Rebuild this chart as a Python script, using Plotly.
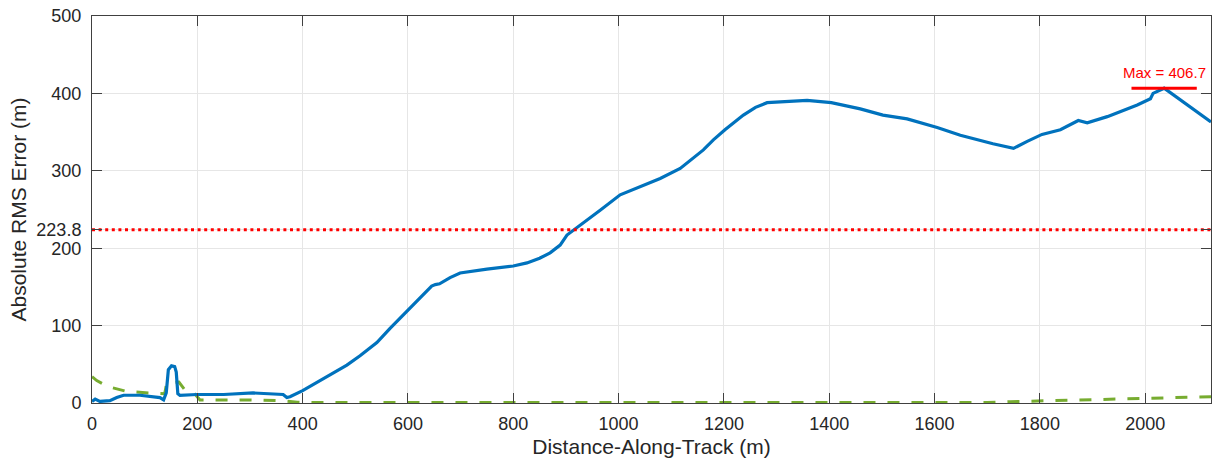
import plotly.graph_objects as go

# Distance along track (m) and absolute RMS error (m) of the estimate
dist_est = [0, 6, 15, 34, 47, 60, 91, 129, 136, 141, 145, 151, 157, 160, 163, 167, 199, 250,
            306, 340, 363, 370, 376, 400, 439, 484, 509, 541, 566, 601, 620, 645, 652, 660,
            680, 699, 750, 800, 826, 850, 870, 889, 902, 920, 965, 1003, 1041, 1079, 1117,
            1142, 1161, 1180, 1202, 1237, 1260, 1282, 1320, 1358, 1404, 1459, 1502, 1548,
            1605, 1649, 1711, 1750, 1776, 1804, 1839, 1873, 1890, 1928, 1985, 2010, 2015,
            2036, 2125]
rmse_est = [2, 5, 2, 3, 7, 10, 10, 7, 4, 13, 43, 48, 47, 40, 12, 10, 11, 11,
            13, 12, 11, 7, 8, 16, 31, 49, 61, 78, 96.5, 120, 133, 151, 153, 154,
            162, 168, 173, 177, 181, 187, 194, 204, 217, 226, 249, 269, 279, 290, 303,
            316, 327, 340, 353, 372, 382, 388, 390, 391, 388, 380, 372, 367,
            356, 346, 335, 329, 338, 347, 353, 365, 362, 370, 385, 393, 400,
            406.7, 363]

# Reference solution error (m)
dist_ref = [0, 9, 31, 66, 107, 138, 142, 165, 175, 190, 205, 300, 360, 390, 420, 1700,
            1744, 1794, 1839, 1886, 1933, 1981, 2029, 2072, 2125]
rmse_ref = [34, 29, 21, 15, 13, 12, 26, 27, 18, 16, 4, 4, 3, 1, 0.6, 0.6,
            1.7, 2.6, 3.4, 3.9, 4.7, 5.6, 6.9, 7.3, 8.1]

MEAN_RMSE = 223.8
X_MAX = 2125
Y_TICKS = [0, 100, MEAN_RMSE, 200, 300, 400, 500]
Y_TICK_TEXT = ["0", "100", "223.8", "200", "300", "400", "500"]
X_TICKS = list(range(0, 2001, 200))

peak_val = max(rmse_est)
peak_x = dist_est[rmse_est.index(peak_val)]
MAX_HALF_WIDTH = 62

FONT = "Liberation Sans, Arial, Helvetica, sans-serif"
INK = "#262626"

fig = go.Figure()

fig.add_trace(go.Scatter(
    x=dist_ref, y=rmse_ref, mode="lines",
    line=dict(color="#77AC30", width=3, dash="12px,12px"),
    showlegend=False, hoverinfo="skip"))

fig.add_trace(go.Scatter(
    x=dist_est, y=rmse_est, mode="lines",
    line=dict(color="#0072BD", width=3.2),
    showlegend=False))

# Mean error line
fig.add_trace(go.Scatter(
    x=[0, X_MAX], y=[MEAN_RMSE, MEAN_RMSE], mode="lines",
    line=dict(color="#FF0000", width=3, dash="3px,3.6px"),
    showlegend=False, hoverinfo="skip"))

# Peak marker
fig.add_trace(go.Scatter(
    x=[peak_x - MAX_HALF_WIDTH, peak_x + MAX_HALF_WIDTH], y=[peak_val, peak_val],
    mode="lines", line=dict(color="#FF0000", width=3),
    showlegend=False, hoverinfo="skip"))

fig.add_annotation(
    x=peak_x, y=peak_val, yshift=16, text=f"Max = {peak_val:.1f}",
    showarrow=False, xanchor="center", yanchor="middle",
    font=dict(family=FONT, size=15, color="#FF0000"))

axis_common = dict(
    showline=True, linecolor="#404040", linewidth=1, mirror="ticks",
    ticks="inside", ticklen=10, tickwidth=1, tickcolor="#404040",
    showgrid=True, gridcolor="#E6E6E6", gridwidth=1, zeroline=False,
    tickfont=dict(family=FONT, size=18, color=INK),
)

fig.update_xaxes(
    range=[0, X_MAX], tickvals=X_TICKS, ticktext=[str(v) for v in X_TICKS],
    title=dict(text="Distance-Along-Track (m)", standoff=6,
               font=dict(family=FONT, size=21, color=INK)),
    ticklabelstandoff=4,
    **axis_common)

fig.update_yaxes(
    range=[0, 500], tickvals=Y_TICKS, ticktext=Y_TICK_TEXT,
    title=dict(text="Absolute RMS Error (m)", standoff=4,
               font=dict(family=FONT, size=21, color=INK)),
    ticklabelstandoff=6,
    **axis_common)

fig.update_layout(
    width=1213, height=464,
    margin=dict(l=92, r=2, t=16, b=61),
    paper_bgcolor="white", plot_bgcolor="white",
    font=dict(family=FONT, color=INK),
)

fig.write_html("out.html")
